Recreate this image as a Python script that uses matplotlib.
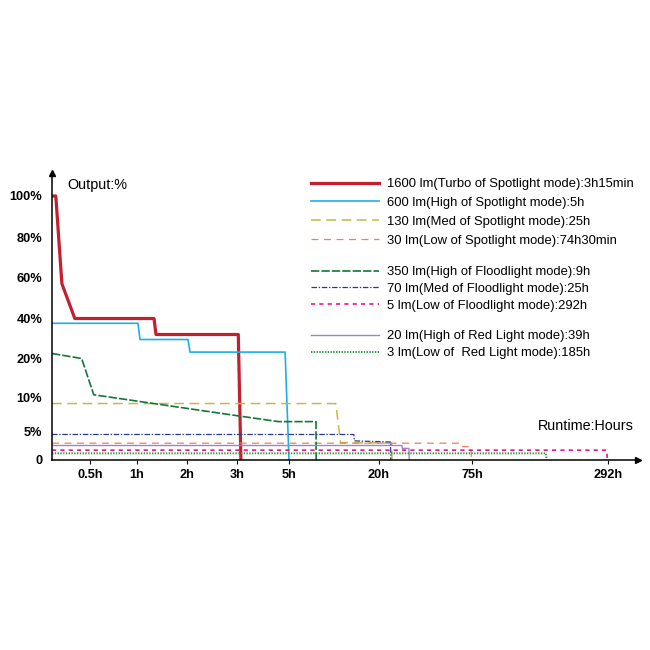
import matplotlib.pyplot as plt
import numpy as np

plt.rcParams['font.family'] = ['Liberation Sans', 'DejaVu Sans']
plt.rcParams['lines.scale_dashes'] = False

# Нелінійні осі: вузли годин / відсотків і їх положення на осі
hour_knots = [0, 0.5, 1, 2, 3, 5, 20, 75, 292, 400]
hour_pos = [0, 38, 85, 135, 185, 237, 327, 420, 556, 586]
pct_knots = [0, 5, 10, 20, 40, 60, 80, 100, 111]
pct_pos = [0, 29, 62.5, 101.5, 141.5, 182.5, 223, 264, 287]

x_ticks = [0.5, 1, 2, 3, 5, 20, 75, 292]
x_labels = ['0.5h', '1h', '2h', '3h', '5h', '20h', '75h', '292h']
y_ticks = [0, 5, 10, 20, 40, 60, 80, 100]
y_labels = ['0', '5%', '10%', '20%', '40%', '60%', '80%', '100%']

# Дані (години, %)
turbo_h = [0, 0.05, 0.13, 0.30, 1.34, 1.38, 3.05, 3.15]
turbo_p = [100, 100, 57, 40, 40, 32, 32, 0]
spot_high_h = [0, 1.02, 1.06, 2.02, 2.06, 4.85, 5.0]
spot_high_p = [37.6, 37.6, 29.5, 29.5, 23.2, 23.2, 0]
spot_med_h = [0, 12.8, 13.6, 27.5, 27.7]
spot_med_p = [9.1, 9.1, 3.0, 2.9, 0]
spot_low_h = [0, 69, 69.5, 74.4, 74.6]
spot_low_p = [2.9, 2.9, 2.3, 2.3, 0]
flood_high_h = [0, 0.39, 0.54, 3.06, 4.6, 9.5, 9.52]
flood_high_p = [22.5, 20, 10.7, 7.25, 6.4, 6.4, 0]
flood_med_h = [0, 15.8, 15.9, 26.8, 27.0]
flood_med_p = [4.4, 4.4, 3.3, 3.1, 0]
flood_low_h = [0, 290, 291]
flood_low_p = [1.7, 1.7, 0]
red_high_h = [0, 33.6, 33.8, 37.7, 37.9]
red_high_p = [2.5, 2.5, 2.0, 2.0, 0]
red_low_h = [0, 193, 194]
red_low_p = [1.15, 1.15, 0]

labels = [
    '1600 lm(Turbo of Spotlight mode):3h15min',
    '600 lm(High of Spotlight mode):5h',
    '130 lm(Med of Spotlight mode):25h',
    '30 lm(Low of Spotlight mode):74h30min',
    '350 lm(High of Floodlight mode):9h',
    '70 lm(Med of Floodlight mode):25h',
    '5 lm(Low of Floodlight mode):292h',
    '20 lm(High of Red Light mode):39h',
    '3 lm(Low of  Red Light mode):185h',
]


def fx(v):
    return np.interp(v, hour_knots, hour_pos)


def fx_inv(v):
    return np.interp(v, hour_pos, hour_knots)


def fy(v):
    return np.interp(v, pct_knots, pct_pos)


def fy_inv(v):
    return np.interp(v, pct_pos, pct_knots)


fig = plt.figure(figsize=(6.5, 6.5), dpi=100)
ax = fig.add_axes([52 / 650, 190 / 650, 586 / 650, 287 / 650])
ax.set_xscale('function', functions=(fx, fx_inv))
ax.set_yscale('function', functions=(fy, fy_inv))
ax.set_xlim(0, 400)
ax.set_ylim(0, 111)

series = [
    (turbo_h, turbo_p, dict(color='#c21f2f', lw=2.3)),
    (spot_high_h, spot_high_p, dict(color='#1cb0e6', lw=1.2)),
    (spot_med_h, spot_med_p, dict(color='#c9b748', lw=1.1, linestyle=(0, (7, 4)))),
    (spot_low_h, spot_low_p, dict(color='#e8845a', lw=0.9, linestyle=(0, (5, 4)))),
    (flood_high_h, flood_high_p, dict(color='#15763a', lw=1.2, linestyle=(0, (6, 1.5)))),
    (flood_med_h, flood_med_p, dict(color='#283a98', lw=0.9, linestyle=(0, (4, 1.2, 1, 1.2)))),
    (flood_low_h, flood_low_p, dict(color='#ec1490', lw=1.2, linestyle=(0, (3, 3)))),
    (red_high_h, red_high_p, dict(color='#9a86c6', lw=1.0)),
    (red_low_h, red_low_p, dict(color='#2b9a3c', lw=1.4, linestyle=(0, (1, 1)))),
]
handles = []
for (xs, ys, style), lab in zip(series, labels):
    h, = ax.plot(xs, ys, label=lab, **style)
    handles.append(h)

# Осі
for s in ['top', 'right']:
    ax.spines[s].set_visible(False)
for s in ['left', 'bottom']:
    ax.spines[s].set_linewidth(1.1)
ax.plot(1, 0, '>k', ms=5, transform=ax.transAxes, clip_on=False)
ax.plot(0, 1, '^k', ms=5, transform=ax.transAxes, clip_on=False)

ax.set_xticks(x_ticks)
ax.set_xticklabels(x_labels, fontsize=9.2, fontweight='bold')
ax.set_yticks(y_ticks)
ax.set_yticklabels(y_labels, fontsize=9.2, fontweight='bold')
ax.tick_params(axis='x', direction='out', length=3, width=0.8, pad=3.5)
ax.tick_params(axis='y', length=0, pad=7)
ax.xaxis.set_minor_locator(plt.NullLocator())
ax.yaxis.set_minor_locator(plt.NullLocator())

ax.text(15 / 586, 275 / 287, 'Output:%', transform=ax.transAxes,
        fontsize=10.4, va='center', ha='left')
ax.text(582 / 586, 34 / 287, 'Runtime:Hours', transform=ax.transAxes,
        fontsize=10.4, va='center', ha='right')

# Легенда трьома групами
groups = [(handles[0:4], 178, 0.52), (handles[4:7], 266, 0.36), (handles[7:9], 330, 0.38)]
for hs, top, spacing in groups:
    leg = fig.legend(handles=hs, labels=[h.get_label() for h in hs],
                     loc='upper left', bbox_to_anchor=(311 / 650, 1 - top / 650),
                     frameon=False, fontsize=9.4, handlelength=5.2,
                     handletextpad=0.65, labelspacing=spacing,
                     borderpad=0, borderaxespad=0)

fig.savefig('out.png', dpi=100)
